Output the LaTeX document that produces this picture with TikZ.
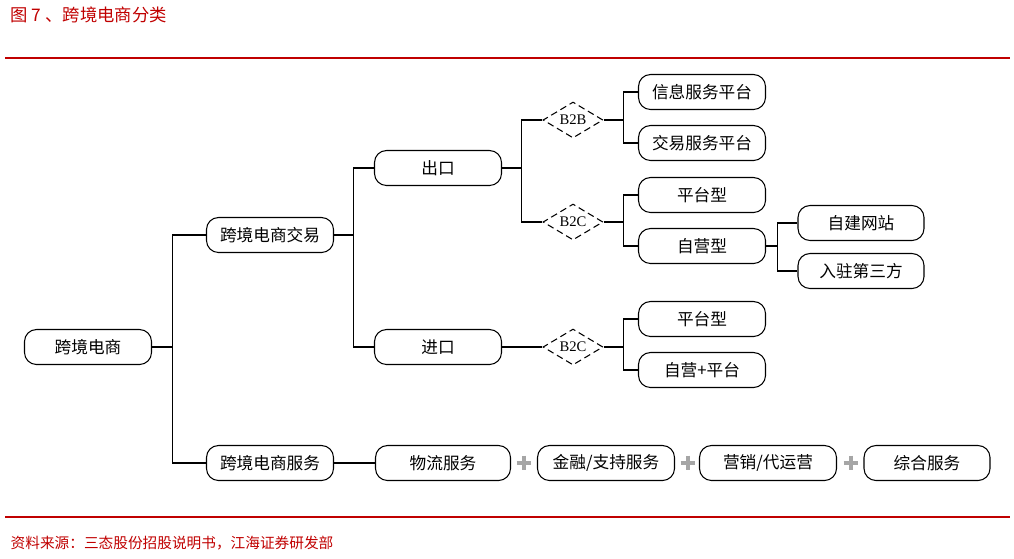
\documentclass[tikz,border=0pt]{standalone}
\usepackage{fontspec}
\setmainfont{Liberation Serif}
\newfontfamily\cjk{Noto Sans CJK SC}
\usetikzlibrary{shapes.geometric}
\definecolor{hred}{RGB}{192,0,0}
\begin{document}
\begin{tikzpicture}[x=0.75pt,y=-0.75pt,
  bx/.style={draw,thick,rounded corners=9pt,minimum width=127*0.75pt,minimum height=35*0.75pt,font=\cjk\fontsize{12.5}{14}\selectfont,inner sep=0pt},
  dm/.style={draw,thick,dash pattern=on 5pt off 3pt,diamond,aspect=1.7,minimum width=60*0.75pt,minimum height=36*0.75pt,inner sep=0pt,font=\fontsize{11}{12}\selectfont},
  ln/.style={thick}]
\useasboundingbox (0,0) rectangle (1014,558);
\node[anchor=west,text=hred,font=\cjk\fontsize{13}{15}\selectfont] (title) at (6,15) {图 7 、跨境电商分类};
\draw[hred,thick] (5,58) -- (1010,58);
\draw[hred,thick] (5,517) -- (1010,517);
\node[anchor=west,text=hred,font=\cjk\fontsize{11}{13}\selectfont] (src) at (6,543) {资料来源：三态股份招股说明书，江海证券研发部};
\node[bx] (root) at (88,347) {跨境电商};
\node[bx] (jy) at (270,235) {跨境电商交易};
\node[bx] (fw) at (270,463) {跨境电商服务};
\node[bx] (ck) at (438,168) {出口};
\node[bx] (jk) at (438,347) {进口};
\node[dm] (d1) at (573,120) {B2B};
\node[dm] (d2) at (573,222) {B2C};
\node[dm] (d3) at (573,347) {B2C};
\node[bx] (a1) at (702,92) {信息服务平台};
\node[bx] (a2) at (702,143) {交易服务平台};
\node[bx] (a3) at (702,195) {平台型};
\node[bx] (a4) at (702,246) {自营型};
\node[bx] (a5) at (702,319) {平台型};
\node[bx] (a6) at (702,370) {自营+平台};
\node[bx,minimum width=126*0.75pt] (b1) at (861,223) {自建网站};
\node[bx,minimum width=126*0.75pt] (b2) at (861,271) {入驻第三方};
\node[bx,minimum width=135*0.75pt] (s1) at (443,463) {物流服务};
\node[bx,minimum width=137*0.75pt] (s2) at (606,463) {金融/支持服务};
\node[bx,minimum width=137*0.75pt] (s3) at (768,463) {营销/代运营};
\node[bx,minimum width=126*0.75pt] (s4) at (927,463) {综合服务};
\foreach \n/\x in {p1/524,p2/688,p3/851}{
  \node[inner sep=0pt,minimum size=14*0.75pt] (\n) at (\x,463) {};
  \draw[gray!70,line width=3pt] (\n.west) -- (\n.east) (\n.north) -- (\n.south);}
\draw[ln] (root.east) -- ++(20,0) |- (jy.west);
\draw[ln] (root.east) -- ++(20,0) |- (fw.west);
\draw[ln] (fw.east) -- (s1.west);
\draw[ln] (jy.east) -- ++(19,0) |- (ck.west);
\draw[ln] (jy.east) -- ++(19,0) |- (jk.west);
\draw[ln] (ck.east) -- ++(19,0) |- (d1.west);
\draw[ln] (ck.east) -- ++(19,0) |- (d2.west);
\draw[ln] (jk.east) -- (d3.west);
\draw[ln] (d1.east) -- ++(20,0) |- (a1.west);
\draw[ln] (d1.east) -- ++(20,0) |- (a2.west);
\draw[ln] (d2.east) -- ++(20,0) |- (a3.west);
\draw[ln] (d2.east) -- ++(20,0) |- (a4.west);
\draw[ln] (d3.east) -- ++(20,0) |- (a5.west);
\draw[ln] (d3.east) -- ++(20,0) |- (a6.west);
\draw[ln] (a4.east) -- ++(11,0) |- (b1.west);
\draw[ln] (a4.east) -- ++(11,0) |- (b2.west);
\end{tikzpicture}
\end{document}
